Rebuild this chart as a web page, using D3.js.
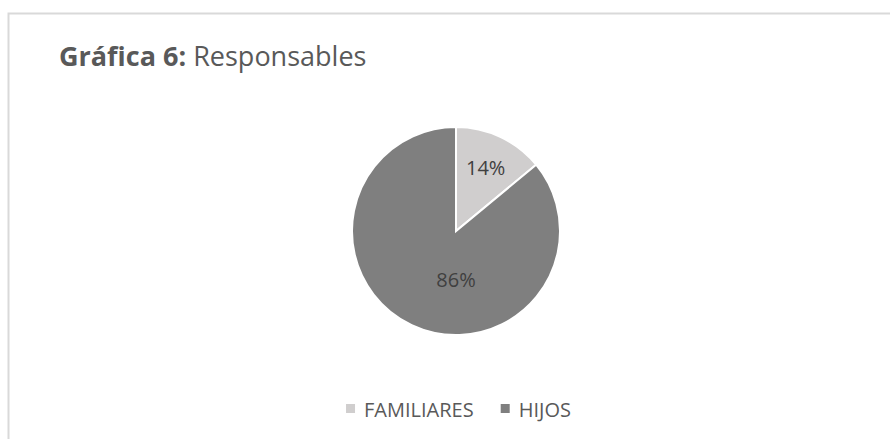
<!DOCTYPE html>
<html>
<head>
<meta charset="utf-8">
<script src="https://cdn.jsdelivr.net/npm/d3@7"></script>
<style>
  body { margin: 0; background: #fff; }
  text { font-family: "Open Sans", sans-serif; }
</style>
</head>
<body>
<div id="chart"></div>
<script>
// data
var categories = ["FAMILIARES", "HIJOS"];
var values = [14, 86];
var colors = ["#d0cece", "#7f7f7f"];

var width = 890, height = 439;
var cx = 456, cy = 231, radius = 104;

var svg = d3.select("#chart").append("svg")
    .attr("width", width)
    .attr("height", height);

// chart frame (runs off the right and bottom of the picture)
svg.append("rect")
    .attr("x", 8.5).attr("y", 13.5)
    .attr("width", 1000).attr("height", 1000)
    .attr("fill", "none")
    .attr("stroke", "#d9d9d9")
    .attr("stroke-width", 2);

var title = svg.append("text")
    .attr("x", 59).attr("y", 66)
    .style("font-size", "27px")
    .style("fill", "#595959");
title.append("tspan").style("font-weight", "bold").text("Gráfica 6:");
title.append("tspan").text(" Responsables");

var data = categories.map(function(c, i) { return {cat: c, val: values[i]}; });

var pie = d3.pie().sort(null).value(function(d) { return d.val; });
var arc = d3.arc().innerRadius(0).outerRadius(radius);

var color = d3.scaleOrdinal().domain(categories).range(colors);

var g = svg.append("g")
    .attr("transform", "translate(" + cx + "," + cy + ")");

var arcs = pie(data);
var total = d3.sum(values);

g.selectAll("path")
    .data(arcs)
  .enter().append("path")
    .attr("d", arc)
    .attr("fill", function(d) { return color(d.data.cat); })
    .attr("stroke", "#fff")
    .attr("stroke-width", 2);

// labels: small slice at its centroid, the big one below the centre (like excel best fit)
var labelArc = d3.arc().innerRadius(radius * 0.67).outerRadius(radius * 0.67);
g.selectAll("text.lbl")
    .data(arcs)
  .enter().append("text")
    .attr("class", "lbl")
    .attr("transform", function(d) {
        var p;
        if (d.endAngle - d.startAngle > Math.PI) p = [0, radius * 0.47];
        else p = labelArc.centroid(d);
        return "translate(" + p[0] + "," + p[1] + ")";
    })
    .attr("text-anchor", "middle")
    .attr("dy", "0.36em")
    .style("font-size", "20px")
    .style("fill", "#404040")
    .text(function(d) { return Math.round(d.data.val / total * 100) + "%"; });

// legend
var legend = svg.append("g");
var items = legend.selectAll("g")
    .data(categories)
  .enter().append("g");

items.append("rect")
    .attr("width", 9).attr("height", 9)
    .attr("y", -13)
    .attr("fill", function(d) { return color(d); });

items.append("text")
    .attr("x", 18)
    .style("font-size", "20px")
    .style("fill", "#595959")
    .text(function(d) { return d; });

var xpos = 0;
items.each(function() {
    var w = this.getBBox().width;
    d3.select(this).attr("transform", "translate(" + xpos + ",0)");
    xpos += w + 27;
});
xpos -= 27;
legend.attr("transform", "translate(" + (458.5 - xpos / 2) + ",417)");
</script>
</body>
</html>
